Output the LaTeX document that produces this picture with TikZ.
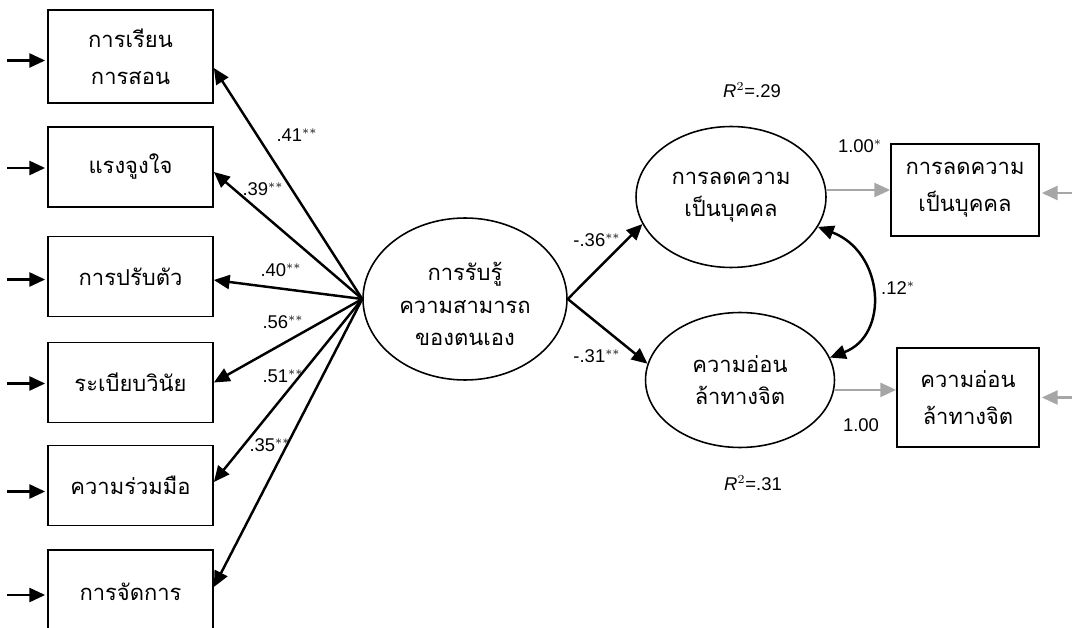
\documentclass[tikz,border=0pt]{standalone}
\usepackage{fontspec}
\setmainfont{Liberation Sans}
\newfontfamily\thaifont[Script=Thai]{Loma}
\usetikzlibrary{arrows.meta,calc,shapes.geometric}

\begin{document}
\begin{tikzpicture}[x=0.02cm, y=-0.02cm, >={Triangle[length=9pt,width=8pt]},
    obs/.style={draw, line width=1pt, minimum width=3.3cm, align=center,
      font=\thaifont\fontsize{12.5}{21}\selectfont},
    lat/.style={draw, ellipse, line width=0.9pt, align=center, inner sep=0pt,
      font=\thaifont\fontsize{12.5}{18.5}\selectfont},
    path/.style={->, line width=1.4pt},
    gpath/.style={->, line width=1.3pt, black!35},
    coef/.style={font=\fontsize{10.5}{12}\selectfont, inner sep=1pt}]
    \useasboundingbox (0,0) rectangle (1072,628);
    \clip (0,0) rectangle (1072,628);

    % indicators of self-efficacy
    \node[obs, minimum height=1.86cm] (lrn) at (130.5,56.5) {การเรียน\\การสอน};
    \node[obs, minimum height=1.6cm] (mot) at (130.5,167) {แรงจูงใจ};
    \node[obs, minimum height=1.6cm] (adj) at (130.5,276.5) {การปรับตัว};
    \node[obs, minimum height=1.6cm] (dsc) at (130.5,382.5) {ระเบียบวินัย};
    \node[obs, minimum height=1.6cm] (coo) at (130.5,485.5) {ความร่วมมือ};
    \node[obs, minimum height=1.68cm] (mng) at (130.5,592) {การจัดการ};

    % latent variables
    \node[lat, minimum width=4.08cm, minimum height=3.24cm] (self) at (465,299) {\\[-2pt]การรับรู้\\ความสามารถ\\ของตนเอง};
    \node[lat, minimum width=3.8cm, minimum height=2.82cm] (dep) at (731,197) {การลดความ\\เป็นบุคคล};
    \node[lat, minimum width=3.78cm, minimum height=2.7cm] (fat) at (740,380) {ความอ่อน\\ล้าทางจิต};

    % observed outcomes
    \node[obs, minimum width=2.96cm, minimum height=1.84cm] (dbox) at (965,190) {การลดความ\\เป็นบุคคล};
    \node[obs, minimum width=2.84cm, minimum height=1.98cm] (fbox) at (968,397.5) {ความอ่อน\\ล้าทางจิต};

    % coefficients
    \node[coef] (c1) at (297,135) {.41$^{**}$};
    \node[coef] (c2) at (263,189) {.39$^{**}$};
    \node[coef] (c3) at (281,270) {.40$^{**}$};
    \node[coef] (c4) at (283,322) {.56$^{**}$};
    \node[coef] (c5) at (283,376) {.51$^{**}$};
    \node[coef] (c6) at (270,445) {.35$^{**}$};
    \node[coef] (c7) at (597,240) {-.36$^{**}$};
    \node[coef] (c8) at (597,356) {-.31$^{**}$};
    \node[coef] (c9) at (898,288) {.12$^{*}$};
    \node[coef] (c10) at (860,146) {1.00$^{*}$};
    \node[coef] (c11) at (861,425) {1.00};
    \node[coef] (r1) at (752,90) {\textit{R}$^{2}$=.29};
    \node[coef] (r2) at (753,483) {\textit{R}$^{2}$=.31};

    % error terms
    \draw[path] ($(lrn.west)+(-40,4)$) -- ($(lrn.west)+(-2,4)$);
    \draw[path] ($(mot.west)+(-40,1)$) -- ($(mot.west)+(-2,1)$);
    \draw[path] ($(adj.west)+(-40,3)$) -- ($(adj.west)+(-2,3)$);
    \draw[path] ($(dsc.west)+(-40,1)$) -- ($(dsc.west)+(-2,1)$);
    \draw[path] ($(coo.west)+(-40,6)$) -- ($(coo.west)+(-2,6)$);
    \draw[path] ($(mng.west)+(-40,3)$) -- ($(mng.west)+(-2,3)$);
    \draw[gpath] ($(dbox.east)+(35,3)$) -- ($(dbox.east)+(2,3)$);
    \draw[gpath] ($(fbox.east)+(35,0)$) -- ($(fbox.east)+(2,0)$);

    % loadings
    \draw[path] (self.west) -- ($(lrn.east)+(0,11.5)$);
    \draw[path] (self.west) -- ($(mot.east)+(0,5)$);
    \draw[path] (self.west) -- ($(adj.east)+(0,3.5)$);
    \draw[path] (self.west) -- (dsc.east);
    \draw[path] (self.west) -- ($(coo.east)+(0,-3.5)$);
    \draw[path] (self.west) -- ($(mng.east)+(0,-5)$);

    % structural paths
    \draw[path] (self.east) -- (dep.197);
    \draw[path] (self.east) -- (fat.170);
    \draw[{Triangle[length=9pt,width=8pt]}-{Triangle[length=9pt,width=8pt]}, line width=1.4pt]
      (dep.-19) .. controls (884,252) and (890,335) .. (fat.14);
    \draw[gpath] (dep.east |- dbox) -- (dbox.west);
    \draw[gpath] (fat.-6) -- (fat.-6 -| fbox.west);
\end{tikzpicture}
\end{document}
